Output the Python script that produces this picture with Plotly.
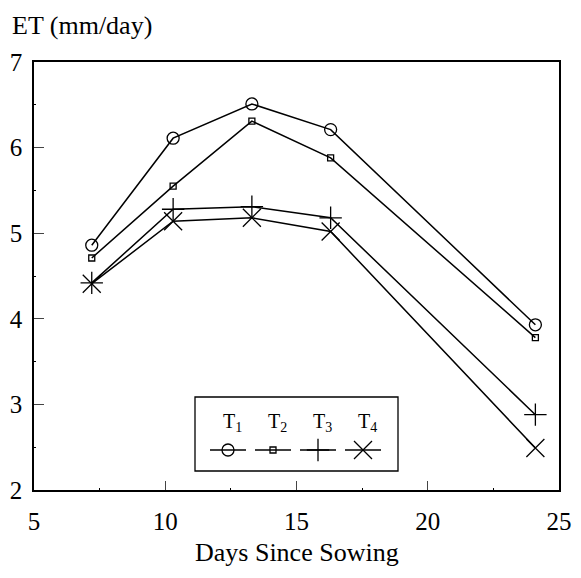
import plotly.graph_objects as go

days = [7.2, 10.3, 13.3, 16.3, 24.1]
t1 = [4.86, 6.11, 6.51, 6.21, 3.93]
t2 = [4.71, 5.55, 6.31, 5.88, 3.78]
t3 = [4.42, 5.28, 5.31, 5.18, 2.88]
t4 = [4.41, 5.14, 5.18, 5.02, 2.49]
series_names = ["T<sub>1</sub>", "T<sub>2</sub>", "T<sub>3</sub>", "T<sub>4</sub>"]
series_vals = [t1, t2, t3, t4]
symbols = ["circle-open", "square-open", "cross-thin-open", "x-thin-open"]
sizes = [12, 6, 16, 18]
x_ticks = [5, 10, 15, 20, 25]
y_ticks = [2, 3, 4, 5, 6, 7]

FONT = "Liberation Serif"
fig = go.Figure()
for name, vals, sym, sz in zip(series_names, series_vals, symbols, sizes):
    fig.add_trace(go.Scatter(
        x=days, y=vals, mode="lines+markers", name=name, showlegend=False,
        line=dict(color="black", width=1.5),
        marker=dict(symbol=sym, size=sz, color="black", line=dict(color="black", width=1.3)),
    ))

# manual legend glyphs on overlay axis (pixel-like layout coordinates)
leg_centers = [228, 273, 318, 363]
for name, sym, sz, cx in zip(series_names, symbols, sizes, leg_centers):
    fig.add_trace(go.Scatter(
        x=[cx - 18, cx, cx + 18], y=[450, 450, 450], mode="lines", xaxis="x2", yaxis="y2",
        showlegend=False, hoverinfo="skip", line=dict(color="black", width=1.3)))
    fig.add_trace(go.Scatter(
        x=[cx], y=[450], mode="markers", xaxis="x2", yaxis="y2", showlegend=False, hoverinfo="skip",
        marker=dict(symbol=sym, size=sz, color="black", line=dict(color="black", width=1.3))))
    fig.add_annotation(x=cx + 4, y=422, xref="x2", yref="y2", text=name, showarrow=False,
                       font=dict(family=FONT, size=20, color="black"))

fig.add_shape(type="rect", xref="x2", yref="y2", x0=195, x1=398, y0=397, y1=471,
              line=dict(color="black", width=1.3))

fig.update_layout(
    width=565, height=562,
    margin=dict(l=26, r=14, t=54, b=80, autoexpand=False),
    paper_bgcolor="white", plot_bgcolor="white",
    font=dict(family=FONT, size=26, color="black"),
    xaxis=dict(range=[5, 25], tickvals=x_ticks, ticks="inside", ticklen=9, tickwidth=1,
               minor=dict(ticks="inside", ticklen=2, dtick=2.5, tickcolor="black"),
               showline=True, linecolor="black", linewidth=1.5, mirror=True, showgrid=False,
               zeroline=False, automargin=False, ticklabelstandoff=8, ticklabeloverflow="allow",
               tickfont=dict(family=FONT, size=25)),
    yaxis=dict(range=[2, 7], tickvals=y_ticks, ticks="inside", ticklen=10, tickwidth=1,
               minor=dict(ticks="inside", ticklen=2, dtick=0.5, tickcolor="black"),
               showline=True, linecolor="black", linewidth=1.5, mirror=True, showgrid=False,
               zeroline=False, automargin=False, ticklabelstandoff=5, ticklabeloverflow="allow",
               tickfont=dict(family=FONT, size=25)),
    xaxis2=dict(overlaying="x", range=[34, 559], visible=False, fixedrange=True),
    yaxis2=dict(overlaying="y", range=[490, 62], visible=False, fixedrange=True),
)
fig.add_annotation(x=-0.045, y=1.086, xref="paper", yref="paper", xanchor="left", yanchor="middle",
                   text="ET (mm/day)", showarrow=False,
                   font=dict(family=FONT, size=26, color="black"))
fig.add_annotation(x=0.5, y=-0.145, xref="paper", yref="paper", xanchor="center", yanchor="middle",
                   text="Days Since Sowing", showarrow=False,
                   font=dict(family=FONT, size=26, color="black"))
fig.write_html("out.html")
